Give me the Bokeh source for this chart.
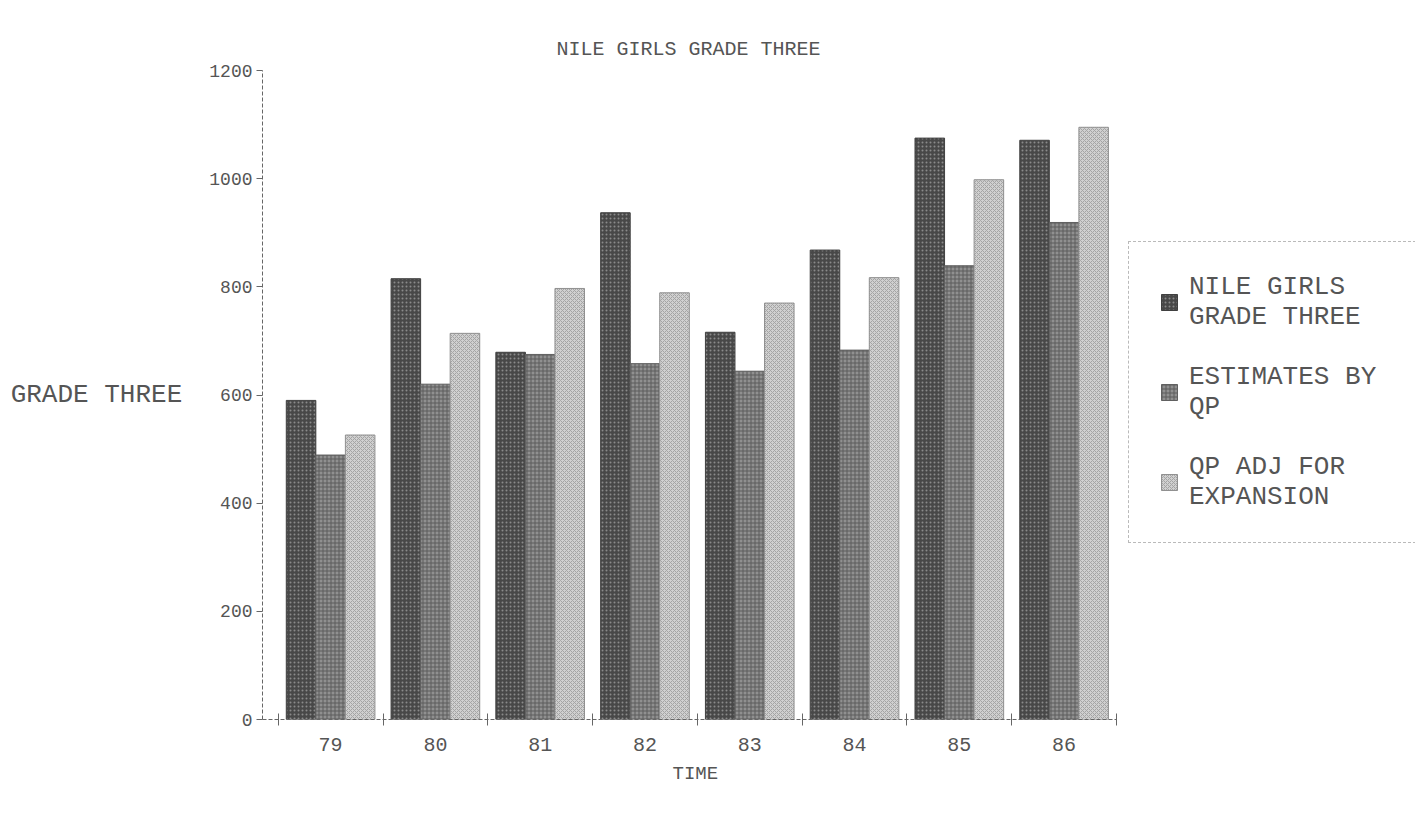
from bokeh.plotting import figure
from bokeh.models import ColumnDataSource, FixedTicker, Legend, LegendItem, Title
from bokeh.transform import dodge
from bokeh.embed import file_html
from bokeh.resources import INLINE

years = ["79", "80", "81", "82", "83", "84", "85", "86"]
nile_girls = [590, 815, 679, 937, 716, 868, 1075, 1071]
estimates_qp = [489, 620, 675, 658, 644, 683, 839, 919]
qp_adj = [526, 714, 797, 789, 770, 817, 998, 1095]
y_ticks = [0, 200, 400, 600, 800, 1000, 1200]

FONT = "Liberation Mono"
TXT = "#555555"

# the bar area spans x in [-0.65, 7.5] over 854 px; the frame is extended
# to the right so the legend can sit beside the bars.
X0, X1 = -0.65, 7.5
BAR_PX = 854
FRAME_PX = 1153
x_end = X0 + (X1 - X0) * FRAME_PX / BAR_PX

xs = list(range(len(years)))
src = ColumnDataSource(dict(x=xs, a=nile_girls, b=estimates_qp, c=qp_adj))

p = figure(width=1417, height=822, output_backend="svg", toolbar_location=None,
           x_range=(X0, x_end), y_range=(0, 1200),
           min_border_left=262, min_border_top=70, min_border_bottom=103,
           min_border_right=2)
p.background_fill_color = "white"
p.border_fill_color = "white"
p.outline_line_color = None
p.grid.visible = False

w = 0.282
r1 = p.vbar(x=dodge("x", -w, range=p.x_range), top="a", width=w, source=src,
            fill_color="#484848", line_color="#404040", line_width=1,
            hatch_pattern="dot", hatch_color="#8a8a8a", hatch_scale=4)
r2 = p.vbar(x=dodge("x", 0, range=p.x_range), top="b", width=w, source=src,
            fill_color="#909090", line_color="#606060", line_width=1,
            hatch_pattern="cross", hatch_color="#5c5c5c", hatch_scale=4)
r3 = p.vbar(x=dodge("x", w, range=p.x_range), top="c", width=w, source=src,
            fill_color="#d0d0d0", line_color="#909090", line_width=1,
            hatch_pattern="diagonal_cross", hatch_color="#a4a4a4", hatch_scale=4)

# title (left aligned with offset so it centres over the bar area)
p.title = Title(text="NILE GIRLS GRADE THREE", align="left", offset=294,
                text_font=FONT, text_font_size="20px", text_font_style="normal",
                text_color=TXT, standoff=20)

# x axis
xa = p.xaxis[0]
xa.bounds = (X0, X1)
xa.ticker = FixedTicker(ticks=xs, minor_ticks=[i + 0.5 for i in range(-1, 8)])
xa.major_label_overrides = {i: y for i, y in enumerate(years)}
xa.major_tick_out = 0
xa.major_tick_in = 0
xa.minor_tick_out = 6
xa.minor_tick_in = 6
xa.minor_tick_line_color = "#666666"
xa.axis_line_color = "#666666"
xa.axis_line_dash = "4 2"
xa.major_label_text_font = FONT
xa.major_label_text_font_size = "20px"
xa.major_label_text_color = TXT
xa.major_label_standoff = 12

xlabel = Title(text="TIME", align="left", offset=410, text_font=FONT,
               text_font_size="19px", text_font_style="normal",
               text_color=TXT, standoff=14)
p.add_layout(xlabel, "below")

# y axis
ya = p.yaxis[0]
ya.ticker = FixedTicker(ticks=y_ticks)
ya.minor_tick_line_color = None
ya.major_tick_out = 6
ya.major_tick_in = 0
ya.major_tick_line_color = "#666666"
ya.axis_line_color = "#666666"
ya.axis_line_dash = "4 2"
ya.major_label_text_font = FONT
ya.major_label_text_font_size = "18px"
ya.major_label_text_color = TXT
ya.major_label_standoff = 4
ya.axis_label = "GRADE THREE"
ya.axis_label_orientation = "horizontal"
ya.axis_label_text_font = FONT
ya.axis_label_text_font_size = "26px"
ya.axis_label_text_font_style = "normal"
ya.axis_label_text_color = TXT
ya.axis_label_standoff = 24

legend = Legend(items=[
    LegendItem(label="NILE GIRLS\nGRADE THREE", renderers=[r1]),
    LegendItem(label="ESTIMATES BY\nQP", renderers=[r2]),
    LegendItem(label="QP ADJ FOR\nEXPANSION", renderers=[r3]),
], location=(866, 176))
legend.label_text_font = FONT
legend.label_text_font_size = "26px"
legend.label_text_color = TXT
legend.label_width = 196
legend.glyph_width = 20
legend.glyph_height = 20
legend.label_standoff = 10
legend.spacing = 30
legend.padding = 30
legend.margin = 0
legend.border_line_color = "#777777"
legend.border_line_dash = "4 2"
legend.border_line_width = 1
legend.background_fill_alpha = 0
p.add_layout(legend, "center")

open("out.html", "w").write(file_html(p, INLINE))
